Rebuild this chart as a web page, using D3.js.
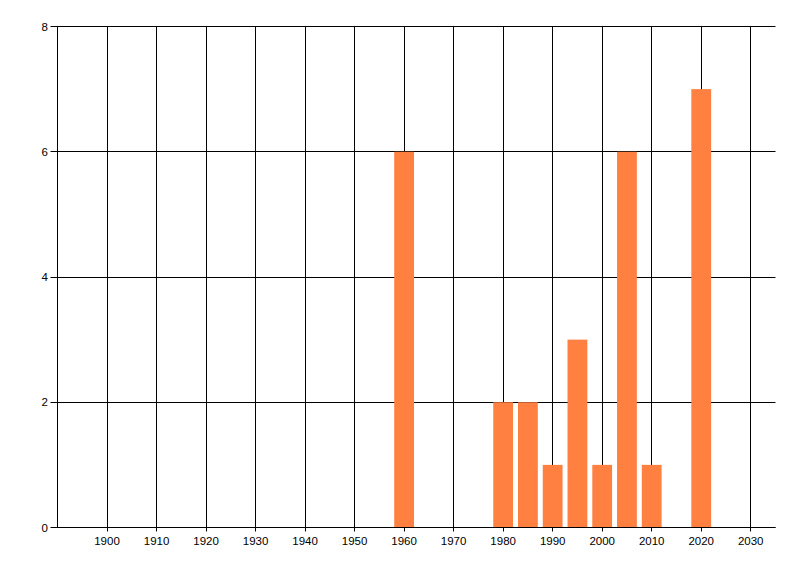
<!DOCTYPE html>
<html>
<head>
<meta charset="utf-8">
<script src="https://cdn.jsdelivr.net/npm/d3@7"></script>
<style>
  body { margin: 0; background: #fff; }
  text { font-family: "Liberation Sans", Arial, sans-serif; font-size: 11.5px; fill: #000; }
</style>
</head>
<body>
<svg id="chart" width="800" height="576"></svg>
<script>
// years and counts
var years = [1960, 1980, 1985, 1990, 1995, 2000, 2005, 2010, 2020];
var counts = [6, 2, 2, 1, 3, 1, 6, 1, 7];
var xTicks = [1900, 1910, 1920, 1930, 1940, 1950, 1960, 1970, 1980, 1990, 2000, 2010, 2020, 2030];
var yTicks = [0, 2, 4, 6, 8];

var svg = d3.select("#chart");

var x = d3.scaleLinear().domain([1890, 2035]).range([57.5, 775.5]);
var y = d3.scaleLinear().domain([0, 8]).range([527.5, 26.5]);

function px(v) { return Math.floor(v) + 0.5; }

// gridlines
svg.append("g")
	.selectAll("line")
	.data(xTicks)
	.enter()
	.append("line")
	.attr("x1", d => px(x(d)))
	.attr("x2", d => px(x(d)))
	.attr("y1", y(8))
	.attr("y2", y(0) + 4)
	.attr("stroke", "#000");

svg.append("g")
	.selectAll("line")
	.data(yTicks)
	.enter()
	.append("line")
	.attr("x1", x.range()[0] - 7)
	.attr("x2", x.range()[1])
	.attr("y1", d => px(y(d)))
	.attr("y2", d => px(y(d)))
	.attr("stroke", "#000");

// bars, 4 years wide, centred on the year
svg.append("g")
	.selectAll("rect")
	.data(years)
	.enter()
	.append("rect")
	.attr("x", d => x(d - 2))
	.attr("width", d => x(d + 2) - x(d - 2))
	.attr("y", (d, i) => y(counts[i]))
	.attr("height", (d, i) => y(0) - y(counts[i]))
	.attr("fill", "#ff8040");

// axis lines on top
svg.append("line")
	.attr("x1", px(x.range()[0])).attr("x2", px(x.range()[0]))
	.attr("y1", px(y(8))).attr("y2", px(y(0)))
	.attr("stroke", "#000");
svg.append("line")
	.attr("x1", px(x.range()[0])).attr("x2", x.range()[1])
	.attr("y1", px(y(0))).attr("y2", px(y(0)))
	.attr("stroke", "#000");

// labels
svg.append("g")
	.selectAll("text")
	.data(xTicks)
	.enter()
	.append("text")
	.attr("x", d => x(d))
	.attr("y", 545)
	.attr("text-anchor", "middle")
	.text(d => d);

svg.append("g")
	.selectAll("text")
	.data(yTicks)
	.enter()
	.append("text")
	.attr("x", 48)
	.attr("y", d => y(d) + 4)
	.attr("text-anchor", "end")
	.text(d => d);
</script>
</body>
</html>
